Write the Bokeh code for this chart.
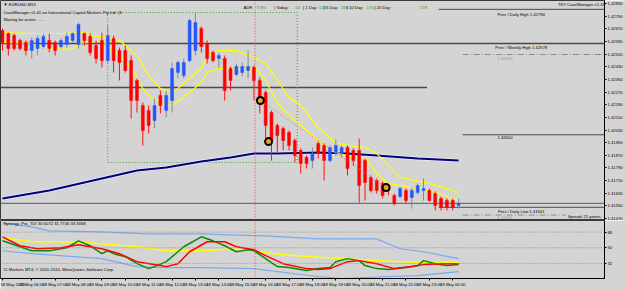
from bokeh.plotting import figure
from bokeh.models import Range1d, FixedTicker, Span, Label, ColumnDataSource
from bokeh.layouts import column
from bokeh.embed import file_html
from bokeh.resources import INLINE

# ---------------- data ----------------
bar_index = list(range(79))
opens = [
    1.42660, 1.42641, 1.42628, 1.42597, 1.42584, 1.42533, 1.42546, 1.42559, 1.42597, 1.42584,
    1.42559, 1.42571, 1.42597, 1.42571, 1.42641, 1.42622, 1.42565, 1.42597, 1.42470, 1.42609,
    1.42533, 1.42533, 1.42470, 1.42344, 1.42185, 1.42154, 1.42090, 1.42249, 1.42154, 1.42217,
    1.42394, 1.42375, 1.42470, 1.42533, 1.42673, 1.42578, 1.42521, 1.42483, 1.42483, 1.42420,
    1.42382, 1.42394, 1.42407, 1.42426, 1.42344, 1.42268, 1.42141, 1.42059, 1.42040, 1.42014,
    1.41964, 1.41900, 1.41856, 1.41837, 1.41945, 1.41932, 1.41837, 1.41888, 1.41881, 1.41919,
    1.41900, 1.41900, 1.41837, 1.41730, 1.41711, 1.41692, 1.41666, 1.41616, 1.41609, 1.41647,
    1.41603, 1.41635, 1.41647, 1.41647, 1.41628, 1.41597, 1.41584, 1.41584, 1.41552]
closes = [
    1.42584, 1.42546, 1.42546, 1.42546, 1.42533, 1.42597, 1.42609, 1.42622, 1.42546, 1.42533,
    1.42597, 1.42622, 1.42641, 1.42698, 1.42597, 1.42521, 1.42483, 1.42470, 1.42628, 1.42470,
    1.42458, 1.42407, 1.42217, 1.42217, 1.42027, 1.42059, 1.42185, 1.42185, 1.42249, 1.42420,
    1.42458, 1.42458, 1.42723, 1.42711, 1.42559, 1.42483, 1.42470, 1.42502, 1.42280, 1.42344,
    1.42432, 1.42432, 1.42432, 1.42344, 1.42217, 1.42059, 1.41964, 1.41995, 1.41964, 1.41932,
    1.41869, 1.41818, 1.41818, 1.41881, 1.41881, 1.41837, 1.41919, 1.41932, 1.41919, 1.41787,
    1.41837, 1.41679, 1.41698, 1.41647, 1.41647, 1.41616, 1.41647, 1.41565, 1.41660, 1.41584,
    1.41647, 1.41679, 1.41660, 1.41584, 1.41552, 1.41540, 1.41540, 1.41540, 1.41566]
highs = [
    1.42673, 1.42647, 1.42641, 1.42609, 1.42597, 1.42616, 1.42628, 1.42641, 1.42641, 1.42597,
    1.42609, 1.42647, 1.42647, 1.42711, 1.42647, 1.42641, 1.42597, 1.42647, 1.42692, 1.42628,
    1.42552, 1.42565, 1.42502, 1.42356, 1.42204, 1.42185, 1.42230, 1.42280, 1.42280, 1.42458,
    1.42470, 1.42483, 1.42736, 1.42774, 1.42685, 1.42597, 1.42533, 1.42521, 1.42502, 1.42432,
    1.42451, 1.42458, 1.42533, 1.42439, 1.42363, 1.42280, 1.42154, 1.42071, 1.42052, 1.42027,
    1.41976, 1.41913, 1.41869, 1.41919, 1.41957, 1.41945, 1.41932, 1.41970, 1.41932, 1.41932,
    1.41913, 1.41976, 1.41850, 1.41742, 1.41723, 1.41704, 1.41679, 1.41628, 1.41673, 1.41660,
    1.41666, 1.41692, 1.41723, 1.41660, 1.41641, 1.41609, 1.41597, 1.41597, 1.41597]
lows = [
    1.42533, 1.42502, 1.42533, 1.42533, 1.42502, 1.42483, 1.42502, 1.42546, 1.42521, 1.42502,
    1.42546, 1.42552, 1.42584, 1.42546, 1.42565, 1.42502, 1.42451, 1.42426, 1.42451, 1.42394,
    1.42344, 1.42394, 1.42103, 1.42141, 1.41932, 1.42008, 1.42040, 1.42135, 1.42109, 1.42141,
    1.42356, 1.42356, 1.42458, 1.42502, 1.42521, 1.42451, 1.42458, 1.42420, 1.42217, 1.42280,
    1.42369, 1.42369, 1.42356, 1.42217, 1.42135, 1.41945, 1.41837, 1.41888, 1.41900, 1.41900,
    1.41825, 1.41755, 1.41787, 1.41787, 1.41850, 1.41711, 1.41825, 1.41869, 1.41856, 1.41742,
    1.41805, 1.41571, 1.41584, 1.41635, 1.41628, 1.41597, 1.41616, 1.41552, 1.41597, 1.41565,
    1.41533, 1.41622, 1.41584, 1.41578, 1.41521, 1.41521, 1.41521, 1.41521, 1.41533]

# moving averages (bar index, price)
ma_slow_x = [0, 8, 17, 23, 28, 34, 39, 43, 47, 54, 59, 64, 71, 78]
ma_slow = [1.41597, 1.41647, 1.41723, 1.41774, 1.41793, 1.41831, 1.41856, 1.41881,
           1.41881, 1.41888, 1.41881, 1.41869, 1.41850, 1.41837]
band_up_x = [0, 5, 10, 14, 15, 18, 20, 23, 25, 27, 29, 30, 32, 34, 35, 37, 40, 43, 45,
             47, 49, 51, 54, 57, 62, 64, 68, 73, 78]
band_up = [1.42647, 1.42641, 1.42641, 1.42647, 1.42628, 1.42616, 1.42597, 1.42502, 1.42375,
           1.42293, 1.42268, 1.42293, 1.42356, 1.42420, 1.42502, 1.42533, 1.42533, 1.42489,
           1.42451, 1.42344, 1.42236, 1.42185, 1.42046, 1.41945, 1.41919, 1.41881, 1.41730,
           1.41692, 1.41635]
band_lo_x = [0, 5, 8, 12, 13, 15, 17, 18, 20, 22, 24, 25, 28, 29, 32, 34, 35, 37, 41, 43,
             44, 45, 47, 51, 56, 60, 62, 64, 66, 70, 73, 78]
band_lo = [1.42584, 1.42578, 1.42546, 1.42540, 1.42578, 1.42584, 1.42597, 1.42565, 1.42502,
           1.42426, 1.42293, 1.42249, 1.42192, 1.42185, 1.42268, 1.42331, 1.42394, 1.42420,
           1.42413, 1.42420, 1.42394, 1.42344, 1.42198, 1.42059, 1.41900, 1.41856, 1.41856,
           1.41755, 1.41692, 1.41666, 1.41647, 1.41584]

# price levels
prev_daily_high = 1.42794
prev_weekly_high = 1.42578
pivot_upper = 1.42508
level_1_42300 = 1.42300
round_level = 1.42000
prev_daily_low = 1.41541
pivot_lower = 1.41492
bid_price = 1.41566
level_start_bar = 74.6
pivot_start_bar = 78.7
pivot_lower_end_bar = 96.3
level_1_42300_end_bar = 72.6

# session box and signals
session_start_bar, session_end_bar = 18, 50.4
session_high, session_low = 1.42774, 1.41825
crosshair_bar = 43.2
signal_x = [44.1, 45.5, 65.6]
signal_y = [1.42217, 1.41957, 1.41666]

price_ticks = [1.41470, 1.41550, 1.41630, 1.41710, 1.41790, 1.41870, 1.41950, 1.42030,
               1.42110, 1.42190, 1.42270, 1.42350, 1.42430, 1.42510, 1.42590, 1.42670,
               1.42750, 1.42830]

hour_ticks = [0] + list(range(5, 78, 4))
hour_labels = ["18 May 2015"] + ["18 May %02d:00" % h for h in range(6, 24)] + ["19 May 00:00"]

# TDI indicator
tdi_green_x = [0, 3, 5, 8, 11, 13, 15, 17, 18, 19, 21, 23, 25, 26, 28, 30, 31, 34, 36, 38, 40,
               42, 43, 45, 47, 49, 52, 54, 56, 57, 59, 61, 62, 64, 66, 69, 71, 72, 74, 76, 78]
tdi_green = [58.0, 51.2, 46.6, 46.6, 50.0, 58.0, 52.3, 43.2, 46.6, 43.2, 39.7, 31.7, 26.0, 28.3,
             34.0, 45.4, 51.2, 62.6, 58.0, 52.3, 45.4, 47.7, 46.6, 37.5, 28.3, 27.2, 23.8, 26.0,
             27.2, 34.0, 37.5, 35.2, 29.5, 26.0, 24.9, 27.2, 29.5, 35.2, 31.7, 29.5, 30.6]
tdi_red_x = [0, 3, 6, 10, 13, 17, 20, 23, 27, 28, 30, 32, 35, 38, 40, 43, 45, 48, 52, 54, 56,
             59, 61, 64, 67, 70, 72, 75, 78]
tdi_red = [62.6, 52.3, 48.9, 50.0, 53.4, 48.9, 43.2, 34.0, 29.5, 28.3, 31.7, 45.4, 56.9, 56.9,
           51.2, 47.7, 40.9, 31.7, 26.0, 24.9, 26.0, 34.0, 35.2, 31.7, 26.0, 28.3, 30.6, 31.7, 31.7]
tdi_yellow_x = [0, 5, 11, 17, 23, 28, 34, 39, 44, 48, 53, 58, 64, 68, 71, 78]
tdi_yellow = [61.4, 56.9, 56.9, 54.6, 51.2, 46.6, 46.6, 48.9, 45.4, 42.0, 39.7, 37.5, 35.2,
              34.0, 32.9, 33.3]
tdi_up_x = [0, 5, 8, 17, 25, 34, 39, 45, 51, 54, 64, 68, 72, 78]
tdi_up = [78.5, 74.0, 69.4, 68.3, 66.0, 66.0, 64.8, 63.7, 61.4, 60.3, 60.3, 48.9, 45.4, 37.5]
tdi_lo_x = [0, 5, 17, 23, 27, 34, 43, 51, 54, 58, 66, 71, 78]
tdi_lo = [46.6, 43.2, 37.5, 28.3, 27.2, 27.2, 26.0, 19.2, 16.9, 14.6, 16.9, 18.0, 22.6]
tdi_levels = [68, 50, 32]
tdi_min, tdi_max = 14.6180, 81.3966

# ---------------- style ----------------
BG = "#d4d4d4"
FONT = "Liberation Sans"
FS = "4.2px"
BAR_PX = 5.896
X0 = -0.34
FRAME_W = 609
X1 = X0 + FRAME_W / BAR_PX
PY0, PPX = 1.42850, 0.0000633


def py(ypx):  # text placement helper (pixel row -> price)
    return PY0 - ypx * PPX


def bx(xpx):  # text placement helper (pixel col -> bar)
    return (xpx - 2) / BAR_PX


def style(f):
    f.background_fill_color = BG
    f.border_fill_color = BG
    f.outline_line_color = "#3a3a3a"
    f.outline_line_width = 1
    f.xgrid.visible = False
    f.ygrid.visible = False
    for ax in f.yaxis + f.xaxis:
        ax.axis_line_color = "#000000"
        ax.major_tick_line_color = "#000000"
        ax.major_tick_out = 2
        ax.major_tick_in = 0
        ax.minor_tick_line_color = None
        ax.major_label_text_font_size = FS
        ax.major_label_text_font = FONT
        ax.major_label_text_color = "#000000"
        ax.major_label_standoff = 1


def txt(f, x, y, s, color="#000000", align="left", **kw):
    f.add_layout(Label(x=x, y=y, text=s, text_color=color, text_align=align,
                       text_baseline="middle", text_font_size=FS, text_font=FONT, **kw))


main = figure(width=625, height=220, x_range=Range1d(X0, X1),
              y_range=Range1d(PY0 - 220 * PPX, PY0),
              output_backend="svg", toolbar_location=None,
              y_axis_location="right", x_axis_location=None,
              min_border_left=0, min_border_top=0, min_border_bottom=0, min_border_right=16)
style(main)
main.yaxis.ticker = FixedTicker(ticks=price_ticks)
main.yaxis.major_label_overrides = {t: "%.5f" % t for t in price_ticks}

# levels
main.segment(x0=[X0], x1=[X1], y0=[bid_price], y1=[bid_price], line_color="#5a5a5a", line_width=1)
main.segment(x0=[X0], x1=[X1], y0=[prev_weekly_high], y1=[prev_weekly_high],
             line_color="#4a4a4a", line_width=1.5)
main.segment(x0=[X0], x1=[level_1_42300_end_bar], y0=[level_1_42300], y1=[level_1_42300],
             line_color="#4a4a4a", line_width=1.5)
main.segment(x0=[level_start_bar] * 2, x1=[X1] * 2, y0=[prev_daily_high, prev_daily_low],
             y1=[prev_daily_high, prev_daily_low], line_color="#4a4a4a", line_width=1)
main.segment(x0=[pivot_start_bar], x1=[X1], y0=[round_level], y1=[round_level],
             line_color="#4a4a4a", line_width=1)
main.segment(x0=[pivot_start_bar, pivot_start_bar], x1=[X1, pivot_lower_end_bar],
             y0=[pivot_upper, pivot_lower], y1=[pivot_upper, pivot_lower],
             line_color="#8c8c8c", line_width=1, line_dash="6 2 1 2")

# session box
main.quad(left=[session_start_bar], right=[session_end_bar], top=[session_high],
          bottom=[session_low], fill_alpha=0, line_color="#3c9a3c", line_dash="1 2", line_width=1)
main.add_layout(Span(location=crosshair_bar, dimension="height", line_color="#ff3c3c",
                     line_dash="1 2", line_width=1))

# moving averages
main.line(ma_slow_x, ma_slow, line_color="#e8ecf8", line_width=3.5)
main.line(ma_slow_x, ma_slow, line_color="#00007a", line_width=2)
main.line(band_up_x, band_up, line_color="#ffff00", line_width=1.2)
main.line(band_lo_x, band_lo, line_color="#ffff00", line_width=1.2)

# candles
up = [c >= o for o, c in zip(opens, closes)]
src = ColumnDataSource(dict(
    x=bar_index, h=highs, l=lows,
    top=[max(o, c) for o, c in zip(opens, closes)],
    bottom=[min(o, c) for o, c in zip(opens, closes)],
    body=["#2456ff" if u else "#ff0000" for u in up],
    wick=["#8a8a8a" if u else "#ff1010" for u in up]))
main.segment(x0="x", y0="h", x1="x", y1="l", line_color="wick", line_width=1, source=src)
main.vbar(x="x", width=0.5, top="top", bottom="bottom", fill_color="body",
          line_color="body", line_width=0.5, source=src)

# signals
main.line([signal_x[0], signal_x[2]], [signal_y[0], signal_y[2]], line_color="#ff6a6a",
          line_dash="1 2", line_width=1)
main.scatter(signal_x, signal_y, size=7, fill_color="#f0a020", line_color="#000000", line_width=2)

# texts main
txt(main, bx(3), py(4), "▼ EURUSD,M15")
txt(main, bx(3), py(12), "CaveManager v1.41 on International Capital Markets Pty Ltd. (5")
txt(main, bx(3), py(19), "Waiting for action ......")
adr = [(245, "ADR", "#000000"), (258, "7.8%", "#20a020"), (276, "| Today:", "#000000"),
       (297, "14", "#20a020"), (305, "| 1 Day:", "#000000"), (321, "123", "#20a020"),
       (326, "| 5 Day:", "#000000"), (343, "168", "#20a020"), (349, "| 10 Day:", "#000000"),
       (369, "170", "#20a020"), (377, "| 20 Day:", "#000000"), (423, "178", "#20a020")]
for xp, s, col in adr:
    txt(main, bx(xp), py(7), s, color=col)
txt(main, bx(562), py(4), "TKY CaveManager v1.41")
txt(main, bx(525), py(13.5), "Prev / Daily High 1.42794", align="center")
txt(main, bx(525), py(46.5), "Prev / Weekly High 1.42578", align="center")
txt(main, bx(501), py(57.5), "1.42508", color="#9a9a9a")
txt(main, bx(501), py(137), "1.42000")
txt(main, bx(525), py(210.5), "Prev / Daily Low 1.41541", align="center")
txt(main, bx(501), py(217), "1.41492", color="#9a9a9a")
txt(main, bx(605), py(215.5), "Spread: 21 points", align="right")
main.add_layout(Label(x=X1, y=bid_price, x_offset=1, text="1.41566", text_color="#ffffff",
                      text_align="left", text_baseline="middle", text_font_size=FS,
                      text_font=FONT, background_fill_color="#000000"))

# ---------------- indicator ----------------
ind = figure(width=625, height=69, x_range=main.x_range, y_range=Range1d(tdi_min, tdi_max),
             output_backend="svg", toolbar_location=None, y_axis_location="right",
             min_border_left=0, min_border_top=0, min_border_bottom=0, min_border_right=16)
style(ind)
ind.yaxis.ticker = FixedTicker(ticks=tdi_levels)
ind.xaxis.ticker = FixedTicker(ticks=hour_ticks)
ind.xaxis.major_label_overrides = {t: s for t, s in zip(hour_ticks, hour_labels)}
ind.xaxis.major_label_text_align = "left"
for lv in tdi_levels:
    ind.add_layout(Span(location=lv, dimension="width", line_color="#8a8a8a",
                        line_dash="1 2", line_width=1))
ind.add_layout(Span(location=crosshair_bar, dimension="height", line_color="#ff3c3c",
                    line_dash="1 2", line_width=1))
ind.line(tdi_up_x, tdi_up, line_color="#78aaf0", line_width=1.2)
ind.line(tdi_lo_x, tdi_lo, line_color="#78aaf0", line_width=1.2)
ind.line(tdi_yellow_x, tdi_yellow, line_color="#ffff00", line_width=1.5)
ind.line(tdi_green_x, tdi_green, line_color="#0a8a0a", line_width=1.5)
ind.line(tdi_red_x, tdi_red, line_color="#ff0000", line_width=1.5)
txt(ind, bx(3), 78.3, "Synergy_Pro_TDI 30.6072 31.7746 33.3058")
txt(ind, bx(3), 24.5, "IC Markets MT4, © 2001-2014, MetaQuotes Software Corp.")
txt(ind, X1, tdi_max - 2.2, "81.3966", x_offset=3)
txt(ind, X1, tdi_min + 1.5, "14.6180", x_offset=3)
ind.add_layout(Label(x=crosshair_bar, y=tdi_min, y_offset=-4.5, text="2015.05.18 15:30",
                     text_color="#ffffff", text_align="center", text_baseline="middle",
                     text_font_size=FS, text_font=FONT, background_fill_color="#ff0000"))

layout = column(main, ind)
open("out.html", "w").write(file_html(layout, INLINE))
